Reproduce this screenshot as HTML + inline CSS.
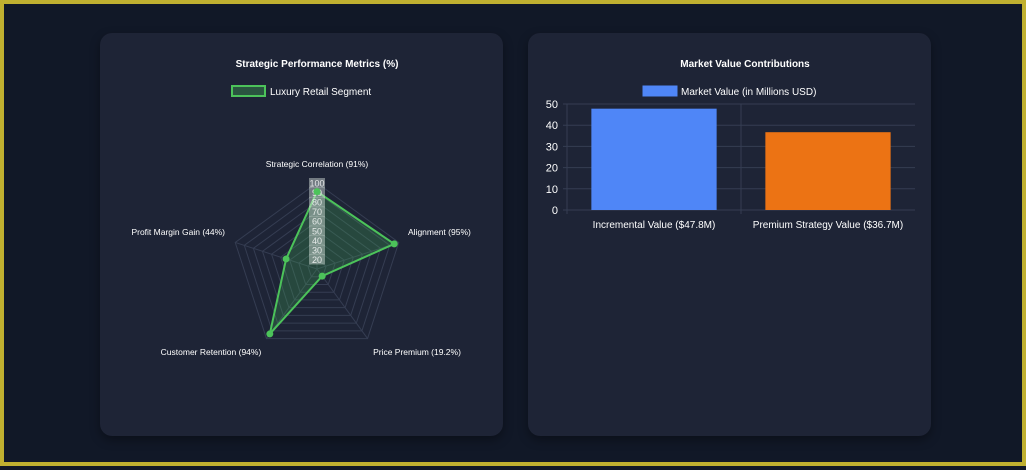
<!DOCTYPE html>
<html><head><meta charset="utf-8"><style>
html,body{margin:0;padding:0}
body{width:1026px;height:466px;background:#111827;box-sizing:border-box;border:4px solid #c0b030;position:relative;overflow:hidden;font-family:"Liberation Sans",sans-serif}
.card{position:absolute;top:33px;width:403px;height:403px;background:#1e2436;border-radius:12px;box-shadow:0 4px 10px rgba(0,0,0,.35)}
svg{position:absolute;left:0;top:0}
</style></head><body>
<div class="card" style="left:96px;top:29px"></div>
<div class="card" style="left:524px;top:29px"></div>
<svg width="1026" height="466" viewBox="4 4 1026 466" style="left:0;top:0" id="s">
<text x="317" y="67" fill="#fff" font-size="10" font-weight="bold" text-anchor="middle">Strategic Performance Metrics (%)</text>
<g><rect x="232" y="86" width="33" height="10" fill="rgba(74,200,90,0.3)" stroke="#4cc35a" stroke-width="2"/><text x="270" y="95" fill="#fff" font-size="10">Luxury Retail Segment</text></g>
<text x="745" y="67" fill="#fff" font-size="10" font-weight="bold" text-anchor="middle">Market Value Contributions</text>
<g><rect x="643" y="86" width="34" height="10" fill="#4f86f7" stroke="#4f86f7"/><text x="681" y="95" fill="#fff" font-size="10">Market Value (in Millions USD)</text></g>
<g id="radar"></g>
<g id="bar"></g>
</svg>
<script>
const radarLabels=["Strategic Correlation (91%)","Alignment (95%)","Price Premium (19.2%)","Customer Retention (94%)","Profit Margin Gain (44%)"];
const radarValues=[91,95,19.2,94,44];
const radarTicks=[20,30,40,50,60,70,80,90,100];
const barCategories=["Incremental Value ($47.8M)","Premium Strategy Value ($36.7M)"];
const barValues=[47.8,36.7];
const barColors=["#4f86f7","#ec7314"];
const barTicks=[0,10,20,30,40,50];
const NS="http://www.w3.org/2000/svg";
function mk(t,a,p){const e=document.createElementNS(NS,t);for(const k in a)e.setAttribute(k,a[k]);p.appendChild(e);return e;}
// radar
const R=document.getElementById('radar'),cx=317,cy=269,rad=86,rmin=10,rmax=100;
const ang=i=>-Math.PI/2+i*2*Math.PI/radarLabels.length;
const rs=v=>(v-rmin)/(rmax-rmin)*rad;
const pt=(i,v)=>[cx+rs(v)*Math.cos(ang(i)),cy+rs(v)*Math.sin(ang(i))];
radarTicks.forEach(t=>{const p=mk('polygon',{points:radarLabels.map((_,i)=>pt(i,t).join(',')).join(' '),fill:'none',stroke:'#353d52','stroke-width':1},R);
});
radarLabels.forEach((l,i)=>{const p=pt(i,rmax);const a=mk('line',{x1:cx,y1:cy,x2:p[0],y2:p[1],stroke:'#353d52'},R);
});
const poly=mk('polygon',{points:radarValues.map((v,i)=>pt(i,v).join(',')).join(' '),fill:'rgba(74,200,90,0.22)',stroke:'#4cc35a','stroke-width':2},R);

radarTicks.forEach(t=>{const y=cy-rs(t);const g=mk('g',{},R);

mk('rect',{x:cx-8,y:y-5,width:16,height:10,fill:'rgba(220,230,225,0.45)'},g);
const tx=mk('text',{x:cx,y:y+3.5,fill:'rgba(255,255,255,0.8)','font-size':9,'text-anchor':'middle'},g);tx.textContent=t;});
radarValues.forEach((v,i)=>{const p=pt(i,v);const c=mk('circle',{cx:p[0],cy:p[1],r:3.5,fill:'#4cc35a'},R);
});
const lp=[[317,167,'middle'],[408,235,'start'],[417,355,'middle'],[211,355,'middle'],[225,235,'end']];
radarLabels.forEach((l,i)=>{const t=mk('text',{x:lp[i][0],y:lp[i][1],fill:'#fff','font-size':8.5,'text-anchor':lp[i][2]},R);t.textContent=l;
});
// bar
const B=document.getElementById('bar'),x0=567,x1=915,y0=210,y1=104,bmax=50;
const ys=v=>y0-(v/bmax)*(y0-y1);
const bw=(x1-x0)/barCategories.length;
barTicks.forEach(t=>{const l=mk('line',{x1:x0-4,x2:x1,y1:ys(t),y2:ys(t),stroke:'#353d52'},B);

const tx=mk('text',{x:558,y:ys(t)+4,fill:'#fff','font-size':11,'text-anchor':'end'},B);tx.textContent=t;
});
for(let i=0;i<barCategories.length;i++){const l=mk('line',{x1:x0+i*bw,x2:x0+i*bw,y1:y1,y2:y0+4,stroke:'#353d52'},B);
}
barCategories.forEach((c,i)=>{const r=mk('rect',{x:x0+i*bw+bw*0.14,y:ys(barValues[i]),width:bw*0.72,height:y0-ys(barValues[i]),fill:barColors[i]},B);

const t=mk('text',{x:x0+i*bw+bw/2,y:228,fill:'#fff','font-size':10,'text-anchor':'middle'},B);t.textContent=c;
});
</script>
</body></html>
